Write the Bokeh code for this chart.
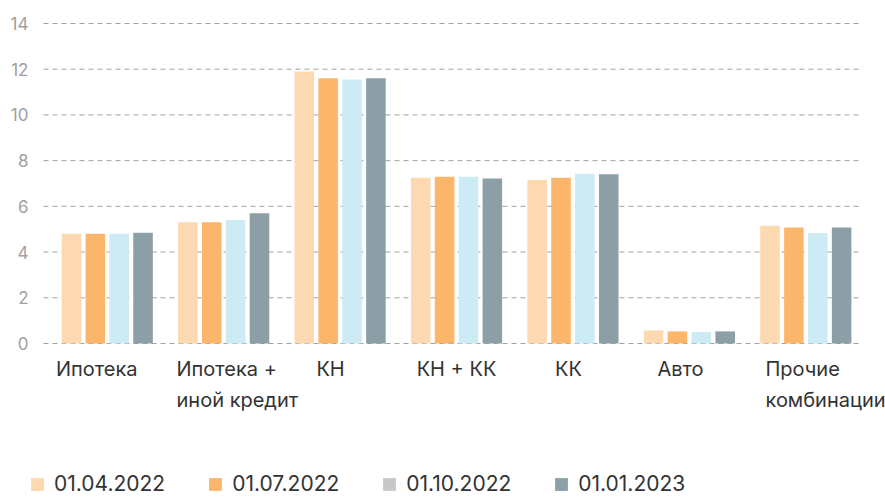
from bokeh.plotting import figure
from bokeh.models import (ColumnDataSource, FactorRange, Range1d, FixedTicker,
                          Legend, LegendItem, LabelSet)
from bokeh.core.properties import value
from bokeh.transform import dodge
from bokeh.embed import file_html
from bokeh.resources import INLINE

# ---- data ----
categories = ["Ипотека", "Ипотека + иной кредит", "КН", "КН + КК", "КК", "Авто", "Прочие комбинации"]
cat_labels = ["Ипотека", "Ипотека +\nиной кредит", "КН", "КН + КК", "КК", "Авто", "Прочие\nкомбинации"]
series_names = ["01.04.2022", "01.07.2022", "01.10.2022", "01.01.2023"]
s_2022_04 = [4.8, 5.3, 11.9, 7.25, 7.15, 0.57, 5.15]
s_2022_07 = [4.8, 5.3, 11.6, 7.3, 7.25, 0.53, 5.07]
s_2022_10 = [4.8, 5.4, 11.55, 7.3, 7.43, 0.5, 4.83]
s_2023_01 = [4.85, 5.7, 11.6, 7.22, 7.4, 0.53, 5.07]
y_ticks = [0, 2, 4, 6, 8, 10, 12, 14]

# ---- styles ----
bar_colors = ["#FCD9B0", "#FBB66B", "#CCEBF5", "#8C9FA6"]
legend_colors = ["#FCD9B0", "#FBB66B", "#C8C8C8", "#8C9FA6"]
CAT_PX = 116.43          # pixel width of one category
SHIFT = -0.0558          # category-unit shift so the padding looks asymmetric
offsets = [o + SHIFT for o in (-0.26, -0.055, 0.15, 0.355)]
label_dx = [d + SHIFT * CAT_PX for d in (-5, -41.6, -4, 5.5, 1, -3.4, -34.8)]
label_align = ["center", "left", "center", "center", "center", "center", "left"]
FONT = "Inter"
GRID_COLOR = "#A0A0A0"

source = ColumnDataSource(dict(cat=categories, a=s_2022_04, b=s_2022_07,
                               c=s_2022_10, d=s_2023_01))

p = figure(width=885, height=497,
           x_range=FactorRange(*categories, range_padding=0.176, range_padding_units="absolute"),
           y_range=Range1d(-6.7375, 14.4375), output_backend="svg",
           toolbar_location=None, min_border_left=29, min_border_right=0,
           min_border_top=13, min_border_bottom=0)
p.outline_line_color = None
p.xaxis.visible = False
p.xgrid.visible = False
p.ygrid.visible = False

ax = p.yaxis[0]
ax.ticker = FixedTicker(ticks=y_ticks)
ax.axis_line_color = None
ax.major_tick_line_color = None
ax.minor_tick_line_color = None
ax.major_tick_out = 0
ax.major_tick_in = 0
ax.major_label_standoff = 1
ax.major_label_text_font = FONT
ax.major_label_text_font_size = "17px"
ax.major_label_text_color = GRID_COLOR

# dashed horizontal grid lines spanning the category area
grid_src = ColumnDataSource(dict(y=y_ticks, c0=[categories[0]] * len(y_ticks),
                                 c1=[categories[-1]] * len(y_ticks)))
p.segment(x0=dodge("c0", -0.5 + SHIFT, range=p.x_range), x1=dodge("c1", 0.5 + SHIFT, range=p.x_range),
          y0="y", y1="y", source=grid_src, line_color=GRID_COLOR, line_width=1, line_dash="5 4")

for col, off, colr in zip(["a", "b", "c", "d"], offsets, bar_colors):
    p.vbar(x=dodge("cat", off, range=p.x_range), top=col, width=0.168,
           source=source, fill_color=colr, line_color=None)

lab_src = ColumnDataSource(dict(x=categories, y=[0] * len(categories), text=cat_labels,
                                dx=label_dx, align=label_align))
labels = LabelSet(x="x", y="y", text="text", source=lab_src, x_offset="dx", y_offset=-13,
                  text_align="align", text_baseline="top", text_font=value(FONT),
                  text_font_size="20px", text_color="#333333", text_line_height=1.3)
p.add_layout(labels)

items = []
for name, colr in zip(series_names, legend_colors):
    r = p.vbar(x=[categories[0]], top=[0], width=0.001, fill_color=colr, line_color=None)
    items.append(LegendItem(label=name, renderers=[r]))

legend = Legend(items=items, orientation="horizontal", location=(0, 1),
                glyph_width=16, glyph_height=16, label_standoff=9, spacing=42,
                padding=0, margin=0, border_line_color=None, background_fill_alpha=0,
                label_text_font=FONT, label_text_font_size="21px", label_text_color="#333333")
p.add_layout(legend)

open("out.html", "w").write(file_html(p, INLINE))
